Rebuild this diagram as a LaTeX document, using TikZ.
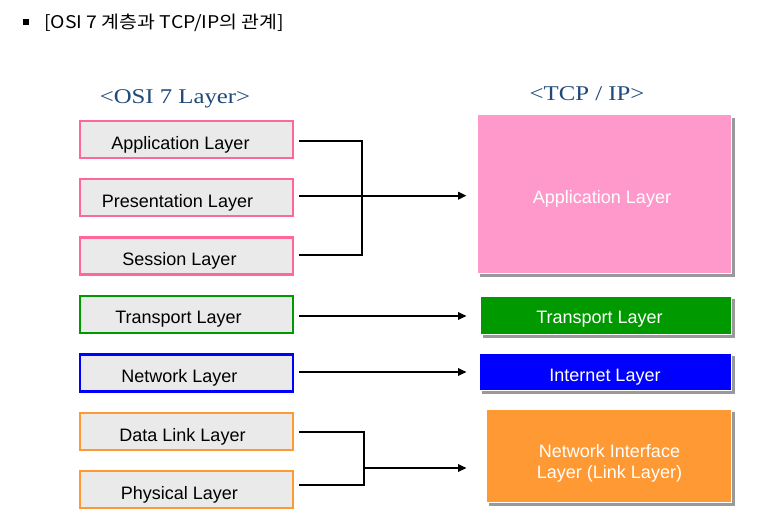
\documentclass[tikz,border=0pt]{standalone}
\usepackage{fontspec}
\setmainfont{Liberation Sans}
\newfontfamily\krfont[FakeStretch=1.11]{Noto Sans CJK KR}
\newfontfamily\titlefont[FakeStretch=1.18]{Liberation Serif}
\usetikzlibrary{arrows.meta}
\definecolor{pinkbd}{HTML}{FF6699}
\definecolor{pinkfl}{HTML}{FF99CC}
\definecolor{grn}{HTML}{009900}
\definecolor{blu}{HTML}{0000FF}
\definecolor{org}{HTML}{FF9933}
\definecolor{boxgray}{HTML}{EAEAEA}
\definecolor{shadowgray}{HTML}{999999}
\definecolor{titleblue}{HTML}{1F4A7A}
\tikzset{
  osibox/.style={draw=#1, line width=2.3pt, fill=boxgray, minimum width=213pt, minimum height=37pt, inner sep=0pt},
  tcpbox/.style={draw=white, line width=1pt, fill=#1, inner sep=0pt},
  boxtext/.style={font=\fontsize{18}{21}\selectfont, text=black},
  tcptext/.style={font=\fontsize{18}{21}\selectfont, text=white, align=center},
  titletext/.style={font=\titlefont\fontsize{21}{25}\selectfont, text=titleblue},
  conn/.style={line width=2pt, black},
  arr/.style={conn, -{Triangle[length=8.5pt,width=7.5pt]}},
  shadowbox/.style={fill=shadowgray, draw=none}
}
\begin{document}
\begin{tikzpicture}[x=1pt,y=-1pt]
\useasboundingbox (0,0) rectangle (760,532);
\fill[white] (0,0) rectangle (760,532);

% header
\fill[black] (23,19.5) rectangle (29,25);
\node[anchor=west, inner sep=0pt, font=\krfont\fontsize{17.5}{20}\selectfont] (hdr) at (44,22.5) {[OSI 7 계층과 TCP/IP의 관계]};

% titles
\node[titletext, inner sep=0pt] (osititle) at (175,99) {<OSI 7 Layer>};
\node[titletext, inner sep=0pt] (tcptitle) at (587,94) {<TCP / IP>};

% OSI boxes
\node[osibox=pinkbd] (app) at (186.5,139.5) {};
\node[boxtext] at ([xshift=-6pt,yshift=-5pt]app.center) {Application Layer};
\node[osibox=pinkbd] (pre) at (186.5,197.5) {};
\node[boxtext] at ([xshift=-9pt,yshift=-5pt]pre.center) {Presentation Layer};
\node[osibox=pinkbd] (ses) at (186.5,256) {};
\node[boxtext] at ([xshift=-7pt,yshift=-5pt]ses.center) {Session Layer};
\node[osibox=grn] (tra) at (186.5,314.5) {};
\node[boxtext] at ([xshift=-8pt,yshift=-5pt]tra.center) {Transport Layer};
\node[osibox=blu] (net) at (186.5,373) {};
\node[boxtext] at ([xshift=-7pt,yshift=-5pt]net.center) {Network Layer};
\node[osibox=org] (dll) at (186.5,431.5) {};
\node[boxtext] at ([xshift=-4pt,yshift=-5pt]dll.center) {Data Link Layer};
\node[osibox=org] (phy) at (186.5,489.5) {};
\node[boxtext] at ([xshift=-7pt,yshift=-5pt]phy.center) {Physical Layer};

% TCP/IP boxes with shadows
\fill[shadowgray] (480,118) rectangle (735,277);
\node[tcpbox=pinkfl, minimum width=254pt, minimum height=158pt] (tapp) at (604,194) {};
\node[tcptext] at ([xshift=-2pt,yshift=-5pt]tapp.center) {Application Layer};

\fill[shadowgray] (483,299) rectangle (735,338);
\node[tcpbox=grn, minimum width=251pt, minimum height=38pt] (ttra) at (605.5,315) {};
\node[tcptext] at ([xshift=-6pt,yshift=-4pt]ttra.center) {Transport Layer};

\fill[shadowgray] (482,356) rectangle (735,394);
\node[tcpbox=blu, minimum width=252pt, minimum height=37pt] (tint) at (605,371.5) {};
\node[tcptext] at ([xshift=0pt,yshift=-6pt]tint.center) {Internet Layer};

\fill[shadowgray] (489,412) rectangle (735,506);
\node[tcpbox=org, minimum width=245pt, minimum height=93pt] (tnil) at (608.5,455.5) {};
\node[tcptext, font=\fontsize{18}{21}\selectfont] at ([xshift=1pt,yshift=-8pt]tnil.center) {Network Interface\\Layer (Link Layer)};

% connector anchor points
\coordinate (sapp) at ([xshift=5pt,yshift=-1.8pt]app.east);
\coordinate (spre) at ([xshift=5pt,yshift=1.8pt]pre.east);
\coordinate (sses) at ([xshift=5pt,yshift=1pt]ses.east);
\coordinate (stra) at ([xshift=5pt,yshift=-1.5pt]tra.east);
\coordinate (snet) at ([xshift=5pt,yshift=1pt]net.east);
\coordinate (sdll) at ([xshift=5pt,yshift=-0.5pt]dll.east);
\coordinate (sphy) at ([xshift=5pt,yshift=4.3pt]phy.east);
\coordinate (j1) at (361.5,199.3);
\coordinate (j2) at (364,468);

% connectors
\draw[conn] (sapp) -| (j1);
\draw[conn] (sses) -| (j1);
\draw[arr] (spre) -- ([xshift=-10pt]tapp.west |- spre);
\draw[arr] (stra) -- ([xshift=-13pt]ttra.west |- stra);
\draw[arr] (snet) -- ([xshift=-12pt]tint.west |- snet);
\draw[conn] (sdll) -| (j2);
\draw[conn] (sphy) -| (j2);
\draw[arr] (j2) -- ([xshift=-19pt]tnil.west |- j2);
\end{tikzpicture}
\end{document}
